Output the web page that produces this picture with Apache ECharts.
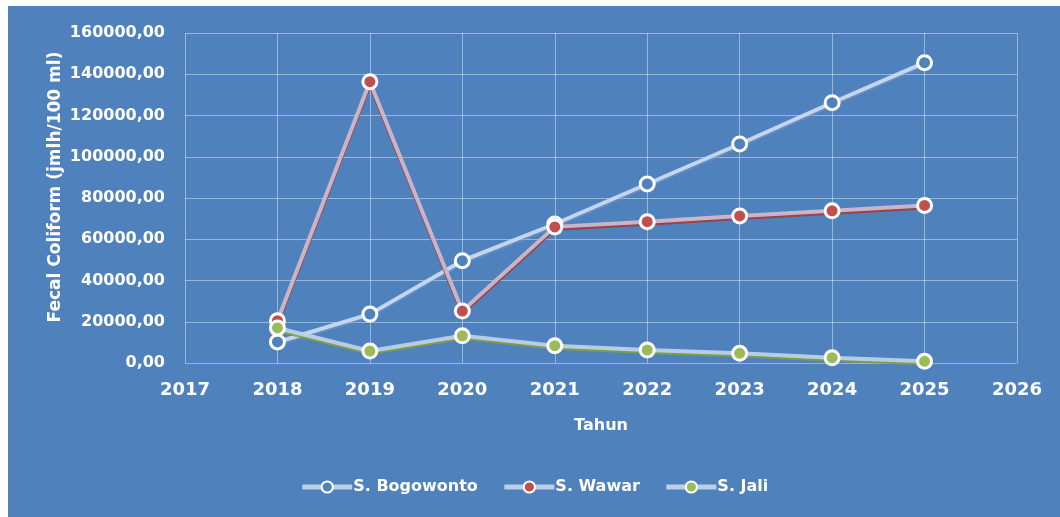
<!DOCTYPE html>
<html>
<head>
<meta charset="utf-8">
<script src="https://cdn.jsdelivr.net/npm/echarts@6/dist/echarts.min.js"></script>
<style>
  html, body { margin: 0; padding: 0; background: #ffffff; }
  #wrap { position: absolute; left: 8px; top: 6px; width: 1052px; height: 511px; background: #4f81bd; }
  #chart { width: 1052px; height: 511px; }
</style>
</head>
<body>
<div id="wrap"><div id="chart"></div></div>
<script>
// Fecal coliform per year for three rivers
const years = [2018, 2019, 2020, 2021, 2022, 2023, 2024, 2025];
const bogowonto = [10200, 23700, 49600, 67400, 86800, 106200, 126200, 145600];
const wawar = [20500, 136400, 25200, 66000, 68500, 71300, 73800, 76400];
const jali = [17000, 5800, 13200, 8400, 6300, 4700, 2600, 800];
const seriesNames = ['S. Bogowonto', 'S. Wawar', 'S. Jali'];

const pairs = (vals) => years.map((y, i) => [y, vals[i]]);
const fmt = (v) => v.toFixed(2).replace('.', ',');
const FONT = 'DejaVu Sans';

function lineSeries(name, vals, dot, lineColor, edge) {
  return {
    name: name,
    type: 'line',
    data: pairs(vals),
    symbol: 'circle',
    symbolSize: 14,
    showAllSymbol: true,
    itemStyle: { color: dot, borderColor: '#ffffff', borderWidth: 3 },
    lineStyle: {
      color: lineColor, width: 4,
      shadowColor: edge, shadowBlur: 0, shadowOffsetY: 2
    },
    emphasis: { disabled: true },
    animation: false
  };
}

const chart = echarts.init(document.getElementById('chart'));
chart.setOption({
  backgroundColor: '#4f81bd',
  textStyle: { fontFamily: FONT, fontWeight: 'bold', color: '#ffffff' },
  grid: { left: 177, right: 43, top: 27, bottom: 154 },
  xAxis: {
    type: 'value', min: 2017, max: 2026, interval: 1,
    name: 'Tahun', nameLocation: 'middle', nameGap: 55,
    nameTextStyle: { color: '#fff', fontFamily: FONT, fontWeight: 'bold', fontSize: 16 },
    axisLine: { show: false }, axisTick: { show: false },
    axisLabel: { color: '#fff', fontFamily: FONT, fontWeight: 'bold', fontSize: 18, margin: 18,
      formatter: (v) => String(v) },
    splitLine: { show: true, lineStyle: { color: 'rgba(255,255,255,0.42)', width: 1 } }
  },
  yAxis: {
    type: 'value', min: 0, max: 160000, interval: 20000,
    name: 'Fecal Coliform (jmlh/100 ml)', nameLocation: 'middle', nameGap: 121,
    nameMoveOverlap: false,
    nameTextStyle: { color: '#fff', fontFamily: FONT, fontWeight: 'bold', fontSize: 17, padding: [0, 0, 0, 22] },
    axisLine: { show: false }, axisTick: { show: false },
    axisLabel: { color: '#fff', fontFamily: FONT, fontWeight: 'bold', fontSize: 16, margin: 20, formatter: fmt },
    splitLine: { show: true, lineStyle: { color: 'rgba(255,255,255,0.42)', width: 1 } }
  },
  legend: {
    data: seriesNames,
    bottom: 17, left: 'center',
    itemWidth: 50, itemHeight: 14, itemGap: 24,
    lineStyle: { width: 5, color: 'rgba(200,215,235,0.9)', shadowBlur: 0, shadowOffsetY: 0 },
    textStyle: { color: '#fff', fontFamily: FONT, fontWeight: 'bold', fontSize: 16, padding: [0, 0, 0, -4] }
  },
  series: [
    lineSeries(seriesNames[0], bogowonto, '#4f81bd', 'rgba(205,220,240,0.92)', 'rgba(120,150,200,0.6)'),
    lineSeries(seriesNames[1], wawar, '#c0504d', 'rgba(205,185,205,0.95)', '#9e3e3e'),
    lineSeries(seriesNames[2], jali, '#9bbb59', 'rgba(190,210,235,0.92)', '#7f9f45')
  ]
});
</script>
</body>
</html>
